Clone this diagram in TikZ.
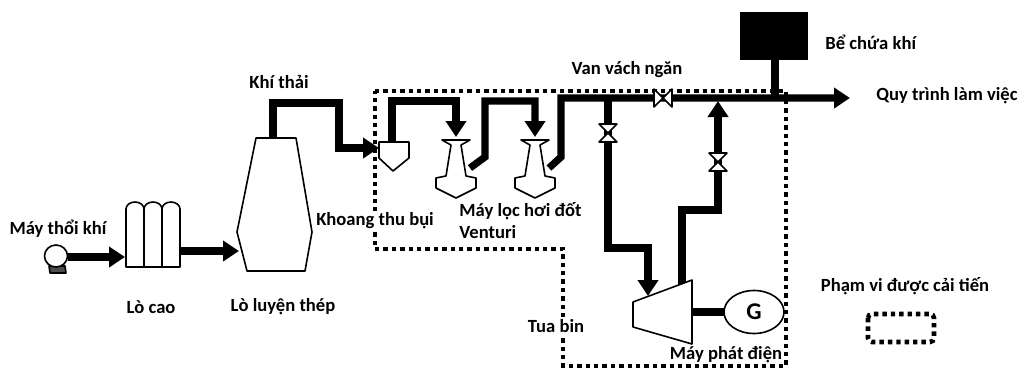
\documentclass[tikz,border=0pt]{standalone}
\usepackage{fontspec}
\setmainfont{Carlito}
\usetikzlibrary{arrows.meta, positioning, shapes.geometric}
\tikzstyle{pipe} = [line width=3.6pt, line join=miter]
\tikzstyle{flow} = [pipe, -{Triangle[length=8pt, width=10pt]}]
\tikzstyle{unit} = [draw, line width=0.8pt, fill=white, line join=round]
\tikzstyle{zone} = [line width=2.3pt, dash pattern=on 2.2pt off 2pt]
\tikzstyle{lbl} = [font=\bfseries\fontsize{9.3}{11}\selectfont, inner sep=0pt]
% valves: on a horizontal pipe / on a vertical pipe
\newcommand{\valveh}[1]{\draw[unit, shift={(#1)}] (-9,-9) -- (-9,9) -- (9,-9) -- (9,9) -- cycle;}
\newcommand{\valvev}[1]{\draw[unit, shift={(#1)}] (-9,-9) -- (9,-9) -- (-9,9) -- (9,9) -- cycle;}
% venturi scrubber, hung from its inlet
\newcommand{\venturi}[1]{\draw[unit, shift={(#1)}] (-14,0) -- (14,0) -- (5,5) -- (10,36) -- (20,38)
  -- (20,48) -- (0,58) -- (-20,48) -- (-20,38) -- (-10,36) -- (-5,5) -- cycle;}

\begin{document}
\begin{tikzpicture}[x=0.5pt, y=-0.5pt]
  \useasboundingbox (0,0) rectangle (1022,376);

  % improvement zone
  \draw[zone] (375,91) -- (786,91) -- (786,366) -- (563,366) -- (563,249) -- (375,249) -- cycle;

  % ports
  \coordinate (blower) at (68,257);
  \coordinate (bfin) at (125,257);
  \coordinate (bfout) at (180,251);
  \coordinate (convin) at (239,251);
  \coordinate (convtop) at (273,138);
  \coordinate (dcin) at (379,148);
  \coordinate (dctop) at (392,142);
  \coordinate (v1) at (456,140);
  \coordinate (v1out) at (470,168);
  \coordinate (v2) at (535,140);
  \coordinate (v2out) at (549,168);
  \coordinate (head) at (850,98);
  \coordinate (tank) at (775,60);
  \coordinate (tin) at (648,296);
  \coordinate (tout) at (682,284);
  \coordinate (shaft) at (692,312);

  % blower
  \draw[unit, fill=black!70] (49,266) -- (65,266) -- (66,273) -- (50,273) -- cycle;
  \draw[unit] (56,256) ellipse (11.5 and 11);
  \draw[flow] (blower) -- (bfin);

  % blast furnace stoves
  \foreach \x in {126,144,162}
    \draw[unit] (\x,267) -- (\x,209) arc (180:360:9 and 7) -- (\x+18,267) -- cycle;
  \draw[flow] (bfout) -- (convin);

  % converter
  \draw[unit] (256,138) -- (296,138) -- (312,232) -- (305,271) -- (247,271) -- (237,232) -- cycle;
  \draw[flow] (convtop) -- (273,103) -- (339,103) -- (339,148) -- (dcin);

  % dust catcher
  \draw[unit] (379,142) -- (409,142) -- (409,158) -- (393,171) -- (379,158) -- cycle;
  \draw[flow] (dctop) -- (392,101) -- (456,101) -- (456,137);

  % venturi scrubbers
  \venturi{v1}
  \venturi{v2}
  \draw[flow] (v1out) -- (485,157) -- (485,101) -- (535,101) -- (535,137);
  \draw[flow] (v2out) -- (561,157) -- (561,98) -- (head);

  % gas holder
  \draw[pipe] (tank) -- (775,98);
  \fill (740,12) rectangle (808,60);

  % turbine loop
  \draw[flow] (608,98) -- (608,248) -- (648,248) -- (tin);
  \draw[flow] (tout) -- (682,210) -- (718,210) -- (718,101);
  \valveh{663,98}
  \valvev{608,133}
  \valvev{718,162}

  % turbine and generator
  \draw[unit] (633,302) -- (692,280) -- (692,344) -- (633,327) -- cycle;
  \draw[pipe] (shaft) -- (724,312);
  \node[draw, ellipse, line width=0.8pt, fill=white, minimum width=30pt, minimum height=21.5pt,
    font=\bfseries\large] (gen) at (754,312) {G};

  % labels
  \node[lbl] (lblower) at (58,229) {Máy thổi khí};
  \node[lbl] (lstoves) at (151,307) {Lò cao};
  \node[lbl] (lconv) at (283,307) {Lò luyện thép};
  \node[lbl] (lgas) at (279,82) {Khí thải};
  \node[lbl, fill=white, inner sep=1pt] (ldust) at (375,221) {Khoang thu bụi};
  \node[lbl, align=left, anchor=west] (lvent) at (459,221) {Máy lọc hơi đốt\\Venturi};
  \node[lbl] (lvalve) at (627,70) {Van vách ngăn};
  \node[lbl, anchor=west] (ltank) at (825,42) {Bể chứa khí};
  \node[lbl, anchor=west] (lproc) at (876,96) {Quy trình làm việc};
  \node[lbl, fill=white, inner sep=1pt] (lturb) at (556,326) {Tua bin};
  \node[lbl] (lgen) at (726,355) {Máy phát điện};
  \node[lbl] (lzone) at (905,286) {Phạm vi được cải tiến};

  % legend
  \draw[zone, rounded corners=2pt] (868,314) rectangle (934,342);
\end{tikzpicture}
\end{document}
